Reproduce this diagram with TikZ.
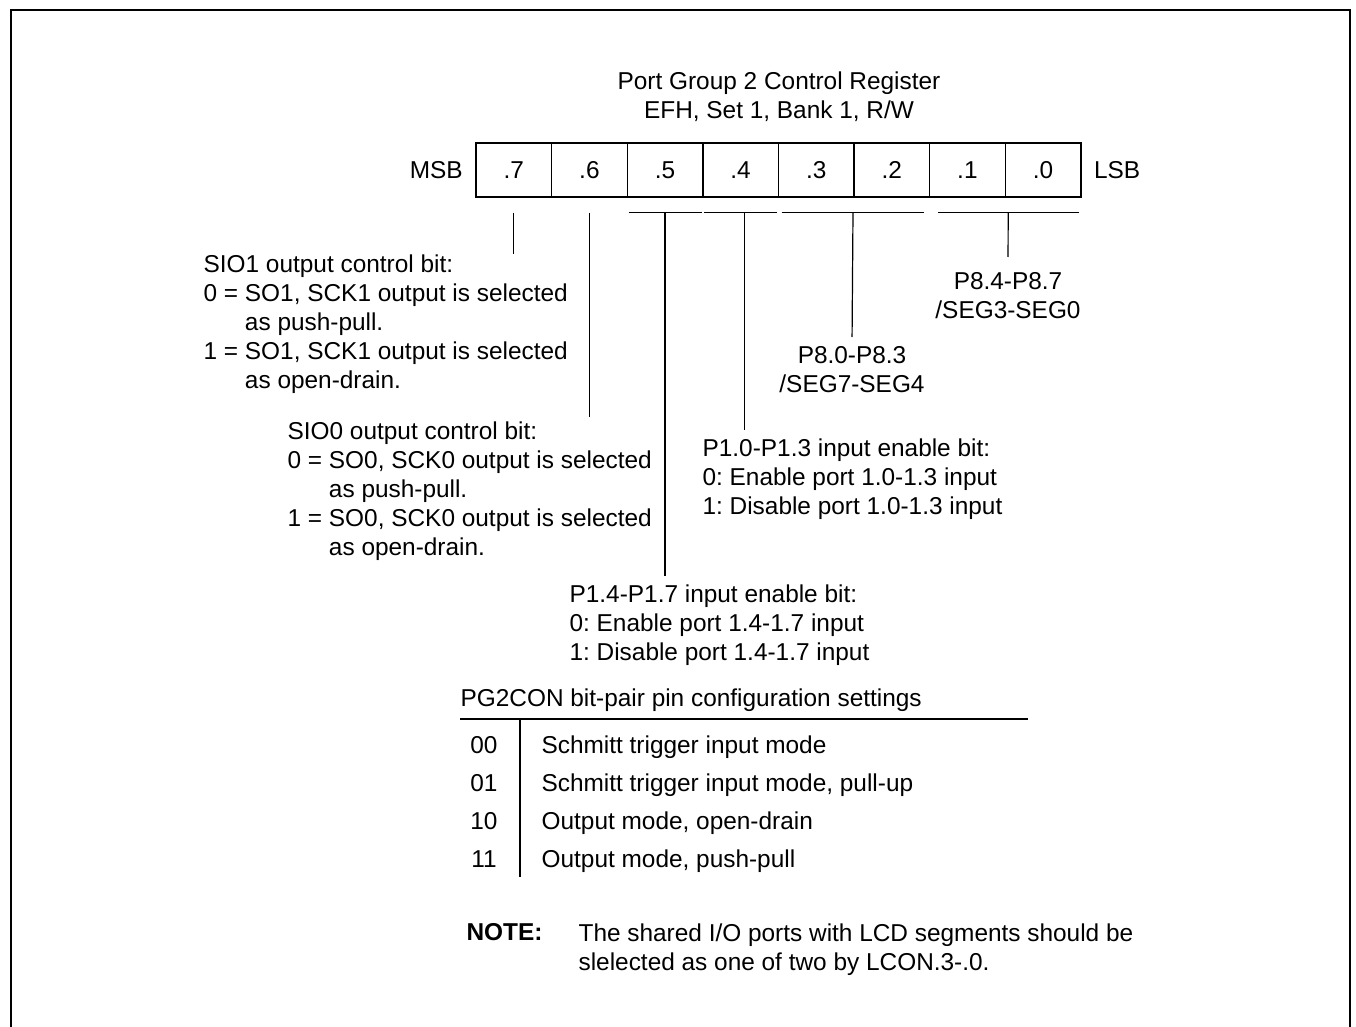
\documentclass[tikz,border=0pt]{standalone}
\usepackage{fontspec}
\setmainfont{Liberation Sans}
\usetikzlibrary{positioning}
\frenchspacing

\begin{document}
\begin{tikzpicture}[x=0.5pt, y=-0.5pt, line width=0.6pt,
  every node/.style={inner sep=0pt, font=\fontsize{12.2}{14.5}\selectfont},
  bitcell/.style={draw, line width=0.7pt, minimum width=37.8pt, minimum height=27pt},
  txt/.style={align=left, anchor=north west}]
\path[use as bounding box] (0,0) rectangle (1356,1027);
\draw[line width=1.3pt] (11,1027) -- (11,10) -- (1350,10) -- (1350,1027);
\node[align=center] (title) at (779,97) {Port Group 2 Control Register\\EFH, Set 1, Bank 1, R/W};
\foreach \b [count=\i from 0] in {7,...,0}
  \node[bitcell] (B\b) at (513.8+75.6*\i,170) {.\b};
\node[left=6pt of B7] (MSB) {MSB};
\node[right=6pt of B0] (LSB) {LSB};

\coordinate (c7) at ([yshift=-7.5pt]B7.south);
\coordinate (c6) at ([yshift=-7.5pt]B6.south);
\draw ([shift={(1pt,-7.5pt)}]B5.south west) -- coordinate (c5) ([shift={(-1pt,-7.5pt)}]B5.south east);
\draw ([shift={(1pt,-7.5pt)}]B4.south west) -- coordinate[xshift=2pt] (c4) ([shift={(-1pt,-7.5pt)}]B4.south east);
\draw ([shift={(2pt,-7.5pt)}]B3.south west) -- coordinate (c32) ([shift={(-3pt,-7.5pt)}]B2.south east);
\draw ([shift={(4.5pt,-7.5pt)}]B1.south west) -- coordinate (c10) ([shift={(-1.5pt,-7.5pt)}]B0.south east);

\node[txt] (SIO1) at (203,254) {SIO1 output control bit:\\0 = SO1, SCK1 output is selected\\\hphantom{0 = }as push-pull.\\1 = SO1, SCK1 output is selected\\\hphantom{1 = }as open-drain.};
\node[txt] (SIO0) at (287,421) {SIO0 output control bit:\\0 = SO0, SCK0 output is selected\\\hphantom{0 = }as push-pull.\\1 = SO0, SCK0 output is selected\\\hphantom{1 = }as open-drain.};
\node[txt] (P14) at (569,584) {P1.4-P1.7 input enable bit:\\0: Enable port 1.4-1.7 input\\1: Disable port 1.4-1.7 input};
\node[txt] (P10) at (702,438) {P1.0-P1.3 input enable bit:\\0: Enable port 1.0-1.3 input\\1: Disable port 1.0-1.3 input};
\node[align=center, anchor=north] (P80) at (852,346) {P8.0-P8.3\\/SEG7-SEG4};
\node[align=center, anchor=north] (P84) at (1008,272) {P8.4-P8.7\\/SEG3-SEG0};

\draw (c7) -- (c7 |- SIO1.north);
\draw[shorten >=2pt] (c6) -- (c6 |- SIO0.north);
\draw[shorten >=4pt] (c5) -- (c5 |- P14.north);
\draw[shorten >=4pt] (c4) -- (c4 |- P10.north);
\draw[shorten >=4.5pt] (c32) -- (P80.north);
\draw[shorten >=7.5pt] (c10) -- (P84.north);

\node[txt] (PG) at (460,688) {PG2CON bit-pair pin configuration settings};
\draw (460,719) -- (1028,719);
\draw (520,719) -- (520,877);
\foreach \c/\t [count=\i from 0] in {00/Schmitt trigger input mode, 01/{Schmitt trigger input mode, pull-up}, 10/{Output mode, open-drain}, 11/{Output mode, push-pull}} {
  \node[anchor=base] (K\i) at (484,753+38*\i) {\c};
  \node[anchor=base west] (D\i) at (541,753+38*\i) {\t};
}

\node[txt] (NOTE) at (466,923) {\textbf{NOTE:}};
\node[txt] (notetext) at (578,923) {The shared I/O ports with LCD segments should be\\slelected as one of two by LCON.3-.0.};
\end{tikzpicture}
\end{document}
